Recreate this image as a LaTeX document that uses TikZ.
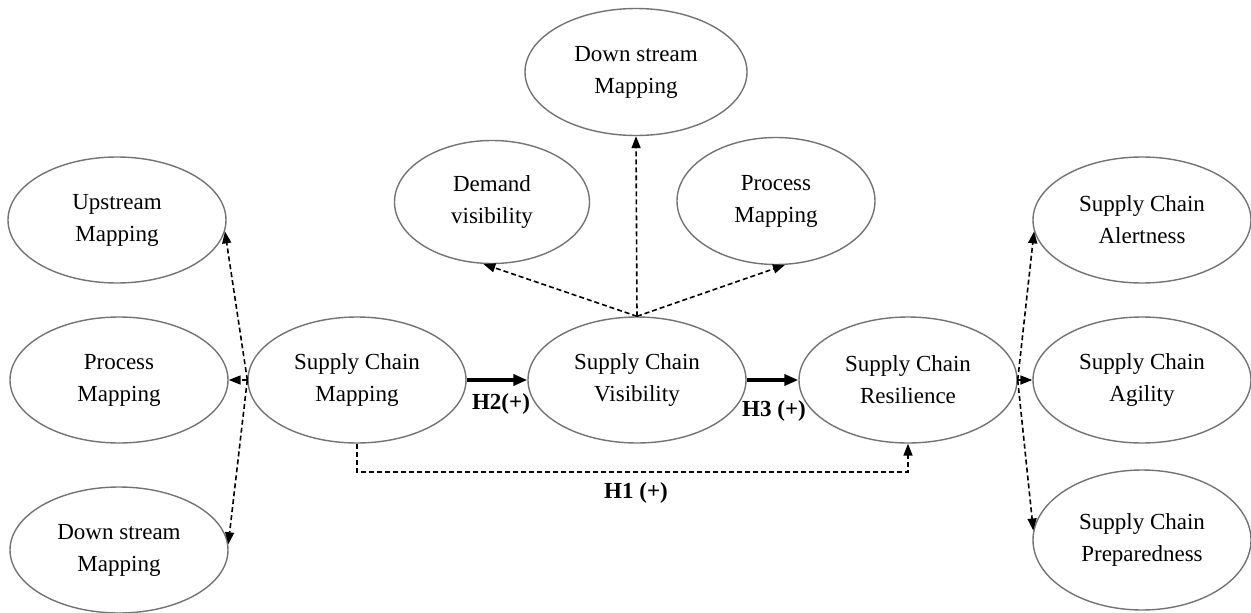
\documentclass[tikz,border=0pt]{standalone}
\usepackage{fontspec}
\setmainfont{Liberation Serif}
\usetikzlibrary{shapes.geometric,arrows.meta}
\begin{document}
\begin{tikzpicture}[x=1pt, y=-1pt, >={Triangle[length=12pt,width=9pt]},
  font=\fontsize{23}{32}\selectfont,
  oval/.style={draw=black!55, line width=1.4pt, ellipse, inner sep=0pt,
    minimum width=218pt, minimum height=126pt, align=center},
  link/.style={->, line width=1.6pt, dash pattern=on 5pt off 3pt},
  hypo/.style={-{Triangle[length=14pt,width=11pt]}, line width=3.4pt},
  hlabel/.style={font=\fontsize{23}{32}\selectfont\bfseries}]
\useasboundingbox (0,0) rectangle (1251,613);
% first-order constructs
\node[oval] (scm) at (357,380) {Supply Chain\\Mapping};
\node[oval] (scv) at (637,380) {Supply Chain\\Visibility};
\node[oval] (scr) at (908,380) {Supply Chain\\Resilience};
% mapping dimensions
\node[oval] (up) at (117,220) {Upstream\\Mapping};
\node[oval] (pml) at (119,380) {Process\\Mapping};
\node[oval] (dml) at (119,550) {Down stream\\Mapping};
% visibility dimensions
\node[oval, minimum width=195pt, minimum height=123pt] (dv) at (492,202) {Demand\\visibility};
\node[oval, minimum width=222pt, minimum height=127pt] (dmt) at (636,72) {Down stream\\Mapping};
\node[oval, minimum width=198pt, minimum height=127pt] (pmt) at (776,201) {Process\\Mapping};
% resilience dimensions
\node[oval] (al) at (1142,220) {Supply Chain\\Alertness};
\node[oval] (ag) at (1142,380) {Supply Chain\\Agility};
\node[oval, minimum height=140pt] (pr) at (1142,540) {Supply Chain\\Preparedness};
% fans
\foreach \t in {up.-6, pml.east, dml.3} \draw[link] (scm.west) -- (\t);
\foreach \t in {dv.262, dmt.south, pmt.-82} \draw[link] (scv.north) -- (\t);
\foreach \t in {al.186, ag.west, pr.175} \draw[link] (scr.east) -- (\t);
% hypotheses
\draw[hypo] (scm.east) -- (scv.west);
\draw[hypo] (scv.east) -- (scr.west);
\draw[link] (scm.south) -- ++(0,28) -| (scr.south);
\node[hlabel] (h2) at (501,404) {H2(+)};
\node[hlabel] (h3) at (774,411) {H3 (+)};
\node[hlabel] (h1) at (636,493) {H1 (+)};
\end{tikzpicture}
\end{document}
